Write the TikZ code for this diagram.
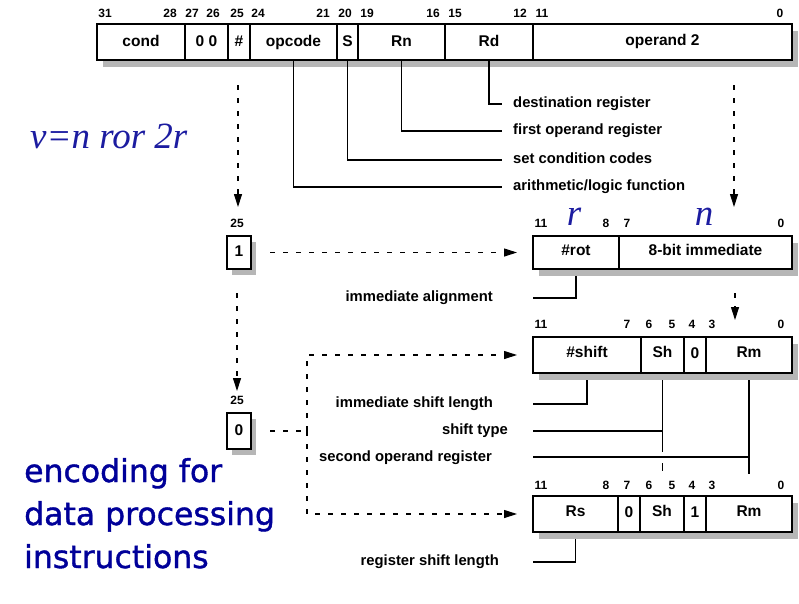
\documentclass[tikz,border=0pt]{standalone}
\usepackage{fontspec}
\setmainfont{Liberation Sans}
\newfontfamily\serifit{Liberation Serif}
\newfontfamily\bigsans[FakeBold=1.2]{DejaVu Sans}
\usetikzlibrary{arrows.meta}
\definecolor{txtblue}{RGB}{0,0,153}
\definecolor{itblue}{RGB}{28,28,160}
\definecolor{shadowgray}{RGB}{182,182,182}
\pgfdeclarelayer{lines}
\pgfdeclarelayer{shadelayer}
\pgfsetlayers{lines,shadelayer,main}
\begin{document}
\begin{tikzpicture}[x=1pt,y=-1pt,
 field/.style={draw, fill=white, line width=1.6pt, inner sep=0pt, outer sep=0pt,
   minimum height=36pt, font=\fontsize{15.5}{18}\selectfont\bfseries,
   text height=11pt, text depth=3pt},
 subfield/.style={field, text depth=6pt},
 bitnum/.style={font=\fontsize{12}{14}\selectfont\bfseries, inner sep=0pt},
 desc/.style={font=\fontsize{14.8}{17}\selectfont\bfseries, inner sep=0pt},
 conn/.style={line width=1.4pt},
 dashline/.style={line width=1.1pt, dash pattern=on 5pt off 8pt},
 dasharrow/.style={dashline, -{Triangle[length=13pt,width=8pt]}},
 shadowfill/.style={fill=shadowgray},
 bluebig/.style={anchor=base west, inner sep=0pt, font=\bigsans\fontsize{31.5}{36}\selectfont, text=txtblue},
 blueit/.style={inner sep=0pt, font=\serifit\itshape\fontsize{37}{42}\selectfont, text=itblue}
]
\useasboundingbox (0,0) rectangle (799,603);

% ---------- top instruction word ----------
\node[field, minimum width=88pt] (cond)   at (141,42)   {cond};
\node[field, minimum width=43pt] (zz)     at (206.5,42) {0 0};
\node[field, minimum width=22pt] (hash)   at (239,42)   {\#};
\node[field, minimum width=87pt] (opcode) at (293.5,42) {opcode};
\node[field, minimum width=21pt] (sbit)   at (347.5,42) {S};
\node[field, minimum width=87pt] (rn)     at (401.5,42) {Rn};
\node[field, minimum width=88pt] (rd)     at (489,42)   {Rd};
\node[field, minimum width=259pt, text depth=5pt] (op2) at (662.5,42) {operand 2};
\begin{pgfonlayer}{shadelayer}
\fill[shadowfill] ([shift={(6pt,-7pt)}]cond.north west) rectangle ([shift={(6pt,-7pt)}]op2.south east);
\end{pgfonlayer}

\foreach \n/\x in {31/105,28/170,27/192,26/213,25/237,24/258,21/323,20/345,19/367,16/433,15/455,12/520,11/542,0/780}
  \node[bitnum] (tb\n) at (\x,13) {\n};

% descriptions of the top fields
\coordinate (eRd) at (502,104);
\coordinate (eRn) at (502,131);
\coordinate (eS)  at (502,160);
\coordinate (eOp) at (502,187);
\draw[conn] (rd.south) |- (eRd);
\draw[conn] (rn.south) |- (eRn);
\draw[conn] (sbit.south) |- (eS);
\draw[conn] (opcode.south) |- (eOp);
\node[desc, anchor=base west] (lRd) at (513,107) {destination register};
\node[desc, anchor=base west] (lRn) at (513,134) {first operand register};
\node[desc, anchor=base west] (lS)  at (513,163) {set condition codes};
\node[desc, anchor=base west] (lOp) at (513,190) {arithmetic/logic function};

% ---------- bit 25 boxes ----------
\node[bitnum] (b25a) at (237,223) {25};
\node[field, minimum width=24pt, minimum height=33pt] (one) at (239,252.5) {1};
\node[bitnum] (b25b) at (237,400) {25};
\node[field, minimum width=24pt, minimum height=36pt] (zero) at (239,431) {0};
\begin{pgfonlayer}{shadelayer}
\fill[shadowfill] ([shift={(5pt,-6pt)}]one.north west) rectangle ([shift={(5pt,-6pt)}]one.south east);
\fill[shadowfill] ([shift={(5pt,-6pt)}]zero.north west) rectangle ([shift={(5pt,-6pt)}]zero.south east);
\end{pgfonlayer}

% ---------- immediate operand ----------
\node[subfield, minimum width=86pt, minimum height=33pt]  (rot)  at (576,252.5)   {\#rot};
\node[subfield, minimum width=173pt, minimum height=33pt] (imm8) at (705.5,252.5) {8-bit immediate};
\foreach \n/\x in {11/541,8/606,7/627,0/781}
  \node[bitnum] (ib\n) at (\x,223) {\n};
\node[blueit, anchor=base] (rlab) at (574,225) {r};
\node[blueit, anchor=base] (nlab) at (704,225) {n};

% ---------- immediate shift ----------
\node[subfield, minimum width=108pt] (shamt) at (587,355)   {\#shift};
\node[subfield, minimum width=43pt]  (sha)   at (662.5,355) {Sh};
\node[subfield, minimum width=22pt, text depth=4pt] (za) at (695,355) {0};
\node[subfield, minimum width=86pt]  (rma)   at (749,355)   {Rm};
\foreach \n/\x in {11/541,7/627,6/649,5/672,4/692,3/712,0/781}
  \node[bitnum] (sb\n) at (\x,324) {\n};

% ---------- register shift ----------
\node[subfield, minimum width=85pt] (rs)  at (575.5,514) {Rs};
\node[subfield, minimum width=22pt, text depth=4pt] (zb) at (629,514) {0};
\node[subfield, minimum width=44pt] (shb) at (662,514)   {Sh};
\node[subfield, minimum width=22pt, text depth=4pt] (ob) at (695,514) {1};
\node[subfield, minimum width=86pt] (rmb) at (749,514)   {Rm};
\foreach \n/\x in {11/541,8/606,7/627,6/649,5/672,4/692,3/712,0/781}
  \node[bitnum] (rb\n) at (\x,485) {\n};

\begin{pgfonlayer}{shadelayer}
\fill[shadowfill] ([shift={(6pt,-7pt)}]rot.north west) rectangle ([shift={(6pt,-7pt)}]imm8.south east);
\fill[shadowfill] ([shift={(6pt,-7pt)}]shamt.north west) rectangle ([shift={(6pt,-7pt)}]rma.south east);
\fill[shadowfill] ([shift={(6pt,-7pt)}]rs.north west) rectangle ([shift={(6pt,-7pt)}]rmb.south east);
\end{pgfonlayer}

% ---------- field descriptions (below shadows) ----------
\coordinate (eA) at (533,298);
\coordinate (eB) at (533,404);
\coordinate (eC) at (533,431);
\coordinate (eD) at (533,457);
\coordinate (eE) at (533,562);
\coordinate (shEnd) at (662.5,452);
\coordinate (shTickA) at (662.5,463);
\coordinate (shTickB) at (662.5,471);
\coordinate (rmEnd) at (749,474);
\begin{pgfonlayer}{lines}
\draw[conn] (rot.south) |- (eA);
\draw[conn] (shamt.south) |- (eB);
\draw[conn] (sha.south) -- (shEnd);
\draw[conn] (eC) -- (sha.south |- eC);
\draw[conn] (shTickA) -- (shTickB);
\draw[conn] (rma.south) -- (rmEnd);
\draw[conn] (eD) -- (rma.south |- eD);
\draw[conn] (rs.south) |- (eE);
\end{pgfonlayer}
\node[desc, anchor=base east] (lA) at (493,301.5) {immediate alignment};
\node[desc, anchor=base east] (lB) at (493,407.5) {immediate shift length};
\node[desc, anchor=base east] (lC) at (508,434.5) {shift type};
\node[desc, anchor=base east] (lD) at (492,461)   {second operand register};
\node[desc, anchor=base east] (lE) at (499,565)   {register shift length};

% ---------- dashed flow arrows ----------
\coordinate (hA) at (238,85);
\coordinate (hB) at (238,207);
\coordinate (oA) at (734,85);
\coordinate (oB) at (734,207);
\coordinate (oC) at (735,293);
\coordinate (oD) at (735,320);
\coordinate (vA) at (237,293);
\coordinate (vB) at (237,391);
\coordinate (j)  at (307,431);
\draw[dasharrow] (hA) -- (hB);
\draw[dasharrow] (oA) -- (oB);
\draw[dasharrow] (oC) -- (oD);
\draw[dasharrow] (vA) -- (vB);
\draw[dasharrow] ([xshift=19pt]one.east) -- ([xshift=-16pt]rot.west);
\draw[dashline] ([xshift=19pt]zero.east) -- (j);
\draw[dasharrow] (j) |- ([xshift=-16pt]shamt.west);
\draw[dasharrow] (j) |- ([xshift=-16pt]rs.west);

% ---------- blue annotations ----------
\node[blueit, anchor=base west] (formula) at (30,148) {v=n ror 2r};
\node[bluebig] (t1) at (24,482) {encoding for};
\node[bluebig] (t2) at (24,525) {data processing};
\node[bluebig] (t3) at (24,568) {instructions};
\end{tikzpicture}
\end{document}
